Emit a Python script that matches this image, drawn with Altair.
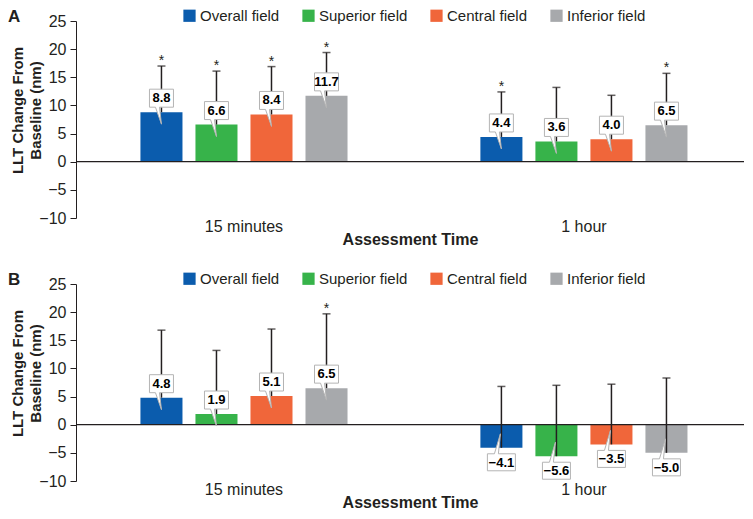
import altair as alt
import pandas as pd

fields = ["Overall field", "Superior field", "Central field", "Inferior field"]
times = ["15 minutes", "1 hour"]
colors = ["#0b5cad", "#37b34a", "#f0663a", "#a7a9ac"]

# Panel A
a_mean_15 = [8.8, 6.6, 8.4, 11.7]
a_mean_1h = [4.4, 3.6, 4.0, 6.5]
a_sd_15 = [8.2, 9.5, 8.5, 7.7]
a_sd_1h = [8.0, 9.6, 7.8, 9.2]
a_sig_15 = [True, True, True, True]
a_sig_1h = [True, False, False, True]

# Panel B
b_mean_15 = [4.8, 1.9, 5.1, 6.5]
b_mean_1h = [-4.1, -5.6, -3.5, -5.0]
b_sd_15 = [12.0, 11.3, 11.9, 13.2]
b_sd_1h = [10.9, 12.6, 10.7, 13.3]
b_sig_15 = [False, False, False, True]
b_sig_1h = [False, False, False, False]

y_ticks = [-10, -5, 0, 5, 10, 15, 20, 25]

FONT = "Liberation Sans"
INK = "#231f20"
W, H = 668, 197

# callout shapes (pixel units, size=4 -> scale 1)
PATH_POS = "M-12,-23 L12,-23 L12,-5 L-2,-5 L0,12 L-6,-5 L-12,-5 Z"
PATH_NEG = "M-14,6 L-7,6 L-1,-14 L-3,6 L14,6 L14,23 L-14,23 Z"


def make_df(m15, m1h, s15, s1h, g15, g1h):
    rows = []
    for t, ms, ss, gs in [(times[0], m15, s15, g15), (times[1], m1h, s1h, g1h)]:
        for f, m, s, g in zip(fields, ms, ss, gs):
            rows.append({
                "time": t, "field": f, "mean": m, "top": round(m + s, 2),
                "label": f"{m:.1f}".replace("-", "\u2212"),
                "sig": g, "pos": m >= 0,
            })
    return pd.DataFrame(rows)


Y_AXIS = alt.Axis(title=["LLT Change From", "Baseline (nm)"],
                  values=y_ticks, grid=False, domainColor=INK,
                  tickColor=INK, tickSize=6, labelFontSize=16,
                  labelFont=FONT, labelColor=INK, labelPadding=4,
                  labelOverlap=False,
                  titleFont=FONT, titleFontSize=15,
                  titleFontWeight="bold", titleColor=INK,
                  titleLineHeight=18, titlePadding=-5, titleY=89)
Y_SCALE = alt.Scale(domain=[-10, 25], nice=False)


def yq(field):
    return alt.Y(field, scale=Y_SCALE, axis=Y_AXIS)


def panel(df, letter):
    x = alt.X("time:N", sort=times,
              scale=alt.Scale(paddingInner=0.229, paddingOuter=0.097, align=0.56),
              axis=alt.Axis(title="Assessment Time", labelAngle=0, domain=False,
                            ticks=False, labelFontSize=16, labelFont=FONT,
                            labelColor=INK, labelPadding=0, titleFont=FONT,
                            titleFontSize=16, titleFontWeight="bold",
                            titleColor=INK, titlePadding=-3))
    xo = alt.XOffset("field:N", sort=fields,
                     scale=alt.Scale(paddingInner=0.236, paddingOuter=0.5))
    base = alt.Chart(df)
    bars = base.mark_bar().encode(
        x=x, xOffset=xo, y=yq("mean:Q"),
        color=alt.Color("field:N", sort=fields,
                        scale=alt.Scale(domain=fields, range=colors),
                        legend=alt.Legend(title=None, orient="none",
                                          legendX=106, legendY=-13,
                                          direction="horizontal",
                                          symbolType="square", symbolSize=150,
                                          symbolStrokeWidth=0, labelFontSize=15,
                                          labelFont=FONT, labelColor=INK,
                                          labelOffset=3, columnPadding=21)))
    err = base.mark_rule(color=INK, strokeWidth=1.5).encode(
        x=x, xOffset=xo, y=yq("mean:Q"), y2="top:Q")
    cap = base.mark_tick(color=INK, thickness=1.5, size=8,
                         orient="horizontal").encode(x=x, xOffset=xo, y=yq("top:Q"))
    zero = alt.Chart(pd.DataFrame({"z": [0]})).mark_rule(
        color=INK, strokeWidth=1.2).encode(y=yq("z:Q"))
    call_pos = base.transform_filter("datum.pos").mark_point(
        shape=PATH_POS, size=4, filled=True, fill="white", stroke="#b4b4b4",
        strokeWidth=1, opacity=1).encode(x=x, xOffset=xo, y=yq("mean:Q"))
    call_neg = base.transform_filter("!datum.pos").mark_point(
        shape=PATH_NEG, size=4, filled=True, fill="white", stroke="#b4b4b4",
        strokeWidth=1, opacity=1).encode(x=x, xOffset=xo, y=yq("mean:Q"))
    txt_pos = base.transform_filter("datum.pos").mark_text(
        font=FONT, fontWeight="bold", fontSize=13, color="black", dy=-14,
        baseline="middle").encode(x=x, xOffset=xo, y=yq("mean:Q"), text="label:N")
    txt_neg = base.transform_filter("!datum.pos").mark_text(
        font=FONT, fontWeight="bold", fontSize=13, color="black", dy=15,
        baseline="middle").encode(x=x, xOffset=xo, y=yq("mean:Q"), text="label:N")
    ast = base.transform_filter("datum.sig").mark_text(
        text="*", font=FONT, fontSize=14, color=INK, dy=-1,
        baseline="alphabetic").encode(x=x, xOffset=xo, y=yq("top:Q"))
    lab = alt.Chart(pd.DataFrame({"t": [letter]})).mark_text(
        font=FONT, fontWeight="bold", fontSize=17, color=INK, align="left",
        baseline="middle").encode(text="t:N", x=alt.value(-68), y=alt.value(-4))
    return alt.layer(bars, err, cap, zero, call_pos, call_neg, txt_pos, txt_neg,
                     ast, lab).properties(width=W, height=H)


dfa = make_df(a_mean_15, a_mean_1h, a_sd_15, a_sd_1h, a_sig_15, a_sig_1h)
dfb = make_df(b_mean_15, b_mean_1h, b_sd_15, b_sd_1h, b_sig_15, b_sig_1h)

chart = alt.vconcat(panel(dfa, "A"), panel(dfb, "B"), spacing=24).resolve_legend(
    color="independent").properties(padding=0).configure_view(stroke=None)

chart.save("out.html", embed_options={"renderer": "svg", "actions": False})
